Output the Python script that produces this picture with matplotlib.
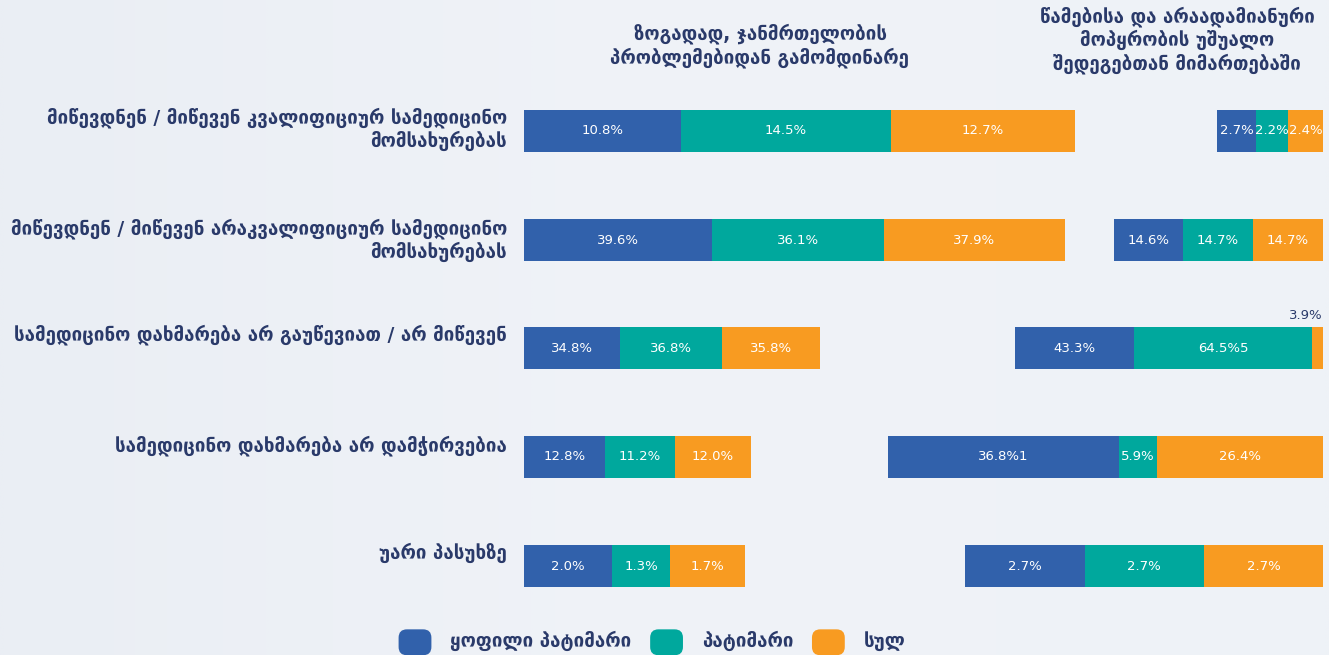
import matplotlib.pyplot as plt
import numpy as np
from matplotlib.colors import LinearSegmentedColormap
from matplotlib.patches import Patch, FancyBboxPatch
from matplotlib.legend_handler import HandlerPatch

plt.rcParams['font.family'] = ['DejaVu Sans']

# row categories (top to bottom)
categories = [
    "მიწევდნენ / მიწევენ კვალიფიციურ სამედიცინო\nმომსახურებას",
    "მიწევდნენ / მიწევენ არაკვალიფიციურ სამედიცინო\nმომსახურებას",
    "სამედიცინო დახმარება არ გაუწევიათ / არ მიწევენ",
    "სამედიცინო დახმარება არ დამჭირვებია",
    "უარი პასუხზე",
]
series_names = ["ყოფილი პატიმარი", "პატიმარი", "სულ"]
group_titles = [
    "ზოგადად, ჯანმრთელობის\nპრობლემებიდან გამომდინარე",
    "წამებისა და არაადამიანური\nმოპყრობის უშუალო\nშედეგებთან მიმართებაში",
]

# health problems in general
health_former = [10.8, 39.6, 34.8, 12.8, 2.0]
health_current = [14.5, 36.1, 36.8, 11.2, 1.3]
health_total = [12.7, 37.9, 35.8, 12.0, 1.7]

# direct consequences of torture / inhuman treatment
torture_former = [2.7, 14.6, 43.3, 36.8, 2.7]
torture_current = [2.2, 14.7, 64.5, 5.9, 2.7]
torture_total = [2.4, 14.7, 3.9, 26.4, 2.7]
torture_texts = [
    ["2.7%", "2.2%", "2.4%"],
    ["14.6%", "14.7%", "14.7%"],
    ["43.3%", "64.5%5", "3.9%"],
    ["36.8%1", "5.9%", "26.4%"],
    ["2.7%", "2.7%", "2.7%"],
]

colors = ["#3161ab", "#00a89d", "#f89b21"]
navy = "#2a3a6a"
fs = 13.5

W, H = 1329, 655
fig = plt.figure(figsize=(W / 100, H / 100), dpi=100)

# soft background
bg = fig.add_axes([0, 0, 1, 1])
grad = np.linspace(0, 1, 512)
bg_cmap = LinearSegmentedColormap.from_list("bg", ["#eaeef4", "#f0f3f8", "#eef2f7"])
bg.imshow(np.outer(np.ones(10), grad), cmap=bg_cmap, aspect="auto", extent=[0, 1, 0, 1],
          interpolation="bilinear")
bg.set_axis_off()

# each row has its own x-scale (units shown across the 799 px bar area)
row_xmax = [55.1, 167.9, 289.5, 126.8, 18.1]
row_centers = [131, 240, 348, 457, 566]
label_dy = [-2, 0, -13, -11, -13]
x0, x1, bar_h = 524, 1323, 42

for i, cat in enumerate(categories):
    yc = row_centers[i]
    ax = fig.add_axes([x0 / W, 1 - (yc + bar_h / 2) / H, (x1 - x0) / W, bar_h / H])
    ax.set_xlim(0, row_xmax[i])
    ax.set_ylim(-0.5, 0.5)
    ax.set_axis_off()
    px = (x1 - x0) / row_xmax[i]

    left_vals = [health_former[i], health_current[i], health_total[i]]
    right_vals = [torture_former[i], torture_current[i], torture_total[i]]

    left = 0
    for v, c in zip(left_vals, colors):
        ax.barh(0, v, left=left, height=1, color=c)
        ax.text(left + v / 2, 0, f"{v:.1f}%", ha="center", va="center", color="white", fontsize=9.5)
        left += v

    left = row_xmax[i] - sum(right_vals)
    for v, c, t in zip(right_vals, colors, torture_texts[i]):
        ax.barh(0, v, left=left, height=1, color=c)
        if v * px < 24:
            # too narrow for the label: put it above the segment
            ax.text(left + v, 0.62, t, ha="right", va="bottom", color=navy, fontsize=9.5,
                    clip_on=False)
        else:
            ax.text(left + v / 2, 0, t, ha="center", va="center", color="white", fontsize=9.5)
        left += v

    fig.text(507 / W, 1 - (yc + label_dy[i]) / H, cat, ha="right", va="center",
             fontsize=fs, fontweight="bold", color=navy, linespacing=1.2)

fig.text(760 / W, 1 - 46 / H, group_titles[0], ha="center", va="center",
         fontsize=fs, fontweight="bold", color=navy, linespacing=1.2)
fig.text(1177 / W, 1 - 40 / H, group_titles[1], ha="center", va="center",
         fontsize=fs, fontweight="bold", color=navy, linespacing=1.2)


class RoundBox(HandlerPatch):
    def create_artists(self, legend, orig_handle, xdescent, ydescent, width, height, fontsize, trans):
        p = FancyBboxPatch((-xdescent, -ydescent - height * 0.05), width, height,
                           boxstyle="round,pad=0,rounding_size=6",
                           facecolor=orig_handle.get_facecolor(), edgecolor="none", transform=trans)
        return [p]


handles = [Patch(facecolor=c) for c in colors]
fig.legend(handles, series_names, loc="center", bbox_to_anchor=(652 / W, 1 - 641 / H),
           ncol=3, frameon=False, prop={"size": fs, "weight": "bold"}, labelcolor=navy,
           handlelength=1.75, handleheight=1.75, handletextpad=1.0, columnspacing=1.0,
           handler_map={Patch: RoundBox()})

fig.savefig("out.png", dpi=100)
